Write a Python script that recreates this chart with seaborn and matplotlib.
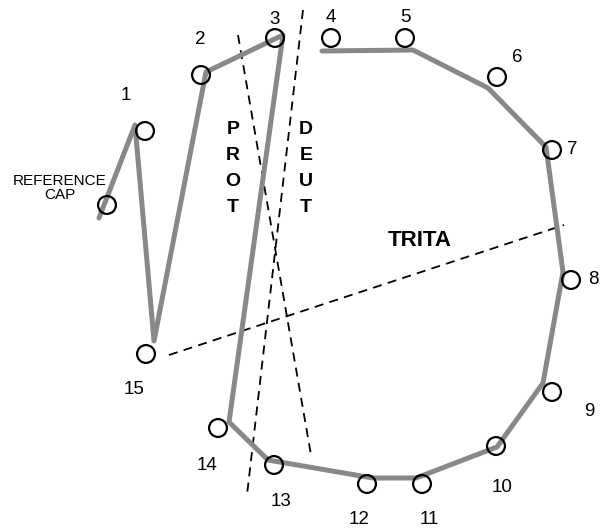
import pandas as pd
import numpy as np
import matplotlib.pyplot as plt
import seaborn as sns

sns.set_style("white")
plt.rcParams['font.family'] = ['Liberation Sans', 'DejaVu Sans']
plt.rcParams['text.color'] = 'black'

# cap positions on the D-15 chart (pixel-like units, y down)
cap_names = ["REF", "1", "2", "3", "4", "5", "6", "7", "8", "9", "10", "11", "12", "13", "14", "15"]
cap_x = [107, 145, 201, 275, 331, 405, 497, 552, 571, 552, 496, 422, 367, 274, 218, 146]
cap_y = [205, 131, 75, 38, 38, 38, 77, 150, 280, 392, 446, 484, 484, 465, 428, 354]

# number label positions
label_x = [126, 200, 275, 331, 405, 517, 572, 593, 589, 502, 429, 359, 281, 207, 134]
label_y = [95, 40, 19, 18, 18, 57, 150, 279, 412, 487, 520, 520, 502, 465, 390]

# subject's arrangement path: ref, 1, 15, 2, 3, 14, 13, 12, 11, 10, 9, 8, 7, 6, 5, 4
path_x = [99, 135, 154, 206, 283, 229, 268, 373, 416, 497, 543, 563, 546, 488, 413, 322]
path_y = [218, 125, 341, 72, 35, 422, 460, 478, 478, 447, 383, 272, 147, 88, 50, 51]

# confusion axes
axis_names = ["PROT", "DEUT", "TRITA"]
axis_x0 = [238, 303, 169]
axis_y0 = [35, 10, 355]
axis_x1 = [311, 247, 564]
axis_y1 = [455, 495, 225]

path = pd.DataFrame({"x": path_x, "y": path_y})
caps = pd.DataFrame({"x": cap_x, "y": cap_y, "cap": cap_names})

fig = plt.figure(figsize=(6.05, 5.31), dpi=100)
ax = fig.add_axes([0, 0, 1, 1])

for i in range(len(axis_names)):
    ax.plot([axis_x0[i], axis_x1[i]], [axis_y0[i], axis_y1[i]],
            color="black", linestyle=(0, (5, 3.5)), linewidth=1.3, zorder=1)

sns.lineplot(data=path, x="x", y="y", sort=False, color="#888888",
             linewidth=3.6, ax=ax, zorder=2)
sns.scatterplot(data=caps, x="x", y="y", s=165, facecolor="none",
                edgecolor="black", linewidth=1.6, ax=ax, zorder=3)

for i in range(len(label_x)):
    ax.text(label_x[i], label_y[i], cap_names[i + 1], fontsize=13.5,
            color="black", ha="center", va="center")

ax.text(60, 188, "REFERENCE\nCAP", fontsize=11, color="black",
        ha="center", va="center", linespacing=1.05)

for j, ch in enumerate("PROT"):
    ax.text(233, 130 + j * 26, ch, fontsize=14, fontweight="bold",
            color="black", ha="center", va="center")
for j, ch in enumerate("DEUT"):
    ax.text(306, 130 + j * 26, ch, fontsize=14, fontweight="bold",
            color="black", ha="center", va="center")
ax.text(420, 240, "TRITA", fontsize=16, fontweight="bold", color="black",
        ha="center", va="center")

ax.set_xlim(0, 605)
ax.set_ylim(531, 0)
ax.axis("off")

plt.savefig("out.png", dpi=100)
